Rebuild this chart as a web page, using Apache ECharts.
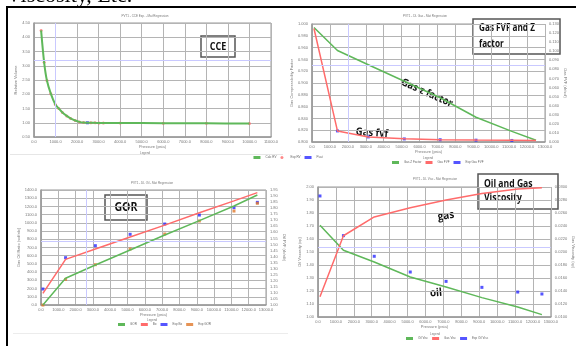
<!DOCTYPE html>
<html>
<head>
<meta charset="utf-8">
<script src="https://cdn.jsdelivr.net/npm/echarts@6/dist/echarts.min.js"></script>
<style>
  html, body { margin: 0; padding: 0; background: #fff; }
  #chart { width: 576px; height: 346px; }
</style>
</head>
<body>
<div id="chart"></div>
<script>
// ---- CCE (constant composition expansion) ----
const ccePressure = [330, 470, 600, 780, 990, 1150, 1320, 1520, 1700, 1910, 2110, 2300, 2480, 2640, 2840, 3020, 3220, 4000, 6000, 8000, 10000];
const cceRelVolCalc = [4.24, 3.12, 2.48, 2.02, 1.64, 1.50, 1.36, 1.24, 1.15, 1.08, 1.03, 1.005, 1.0, 0.998, 0.996, 0.995, 0.994, 0.99, 0.985, 0.98, 0.975];
const cceExpPressure = [330, 470, 600, 780, 990, 1150, 1320, 1520, 1700, 1910, 2110, 2300, 2640, 2840, 3020, 3220, 4000, 6000, 8000, 10000];
const cceRelVolExp = [4.24, 3.12, 2.48, 2.02, 1.64, 1.50, 1.36, 1.24, 1.15, 1.08, 1.03, 1.005, 0.998, 0.996, 0.995, 0.994, 0.99, 0.985, 0.98, 0.975];
const psatPressure = [2480];
const psatRelVol = [1.0];

// ---- Differential liberation stages ----
const dlPressure = [110, 1420, 3140, 5150, 7150, 9150, 11150, 12500];
const gasZCalc = [0.994, 0.955, 0.931, 0.903, 0.875, 0.842, 0.818, 0.803];
const gasFvfCalc = [0.125, 0.0122, 0.0056, 0.0035, 0.0026, 0.0021, 0.0018, 0.0016];
const gasFvfExpPressure = [1420, 3140, 5150, 7150, 9150, 11150];
const gasFvfExp = [0.0122, 0.0056, 0.0034, 0.0025, 0.0020, 0.0017];

const gorCalc = [0, 325, 487, 670, 852, 1027, 1205, 1339];
const gorExp = [0, 312, 491, 682, 864, 1023, 1144, 1238];
const boCalc = [1.096, 1.377, 1.463, 1.562, 1.660, 1.762, 1.860, 1.928];
const boExp = [1.132, 1.391, 1.490, 1.584, 1.669, 1.743, 1.804, 1.848];

const oilViscCalc = [1.705, 1.513, 1.423, 1.308, 1.231, 1.149, 1.077, 1.018];
const oilViscExp = [1.931, 1.626, 1.467, 1.346, 1.274, 1.228, 1.192, 1.177];
const gasViscCalc = [0.0131, 0.0225, 0.0254, 0.0268, 0.0280, 0.0290, 0.0297, 0.0299];

const pairs = (xs, ys) => xs.map((x, i) => [x, ys[i]]);

const GREEN = '#5fb85a';
const RED = '#ff6b6b';
const BLUE = '#2b2bff';
const ORANGE = '#e0782a';
const GRIDLINE = '#b4b4b4';
const TICK = '#777';
const CROSS = '#c9c9ff';
const tiny = { fontSize: 4, color: TICK, fontFamily: 'Liberation Sans' };

function xAxisCfg(gridIndex, max) {
  return {
    type: 'value', gridIndex, min: 0, max, interval: 1000,
    name: 'Pressure (psia)', nameLocation: 'middle', nameGap: 7,
    nameTextStyle: tiny,
    axisLine: { show: true, lineStyle: { color: '#999', width: 1.5 } },
    axisTick: { show: false },
    axisLabel: Object.assign({ margin: 3, formatter: v => v.toFixed(1) }, tiny),
    splitLine: { show: true, lineStyle: { color: GRIDLINE, width: 1 } }
  };
}
function yAxisCfg(gridIndex, min, max, interval, digits, name, position, showSplit) {
  return {
    type: 'value', gridIndex, min, max, interval, position,
    name, nameLocation: 'middle', nameGap: 12, nameRotate: position === 'right' ? -90 : 90,
    nameTextStyle: tiny,
    axisLine: { show: position !== 'right', lineStyle: { color: '#999', width: 1.5 } },
    axisTick: { show: false },
    axisLabel: Object.assign({ margin: 4, formatter: v => v.toFixed(digits) }, tiny),
    splitLine: { show: showSplit, lineStyle: { color: GRIDLINE, width: 1 } }
  };
}
function crossLines(list) {
  return { silent: true, symbol: 'none', label: { show: false },
    lineStyle: { color: CROSS, width: 1, type: 'solid' }, data: list };
}
function legendCfg(names, left, top, icons) {
  return {
    data: names.map((n, i) => ({ name: n, icon: icons[i] })),
    left, top, itemWidth: 7, itemHeight: 3, itemGap: 4,
    textStyle: { fontSize: 3, color: '#666' }, padding: 0
  };
}
// white annotation box with bold caption; the caption is condensed horizontally
function box(x, y, w, h, lines, fontSize, squeeze, centered, lineHeight) {
  return {
    type: 'group', children: [
      { type: 'rect', shape: { x, y, width: w, height: h },
        style: { fill: '#fff', stroke: '#555', lineWidth: 1.5 } },
      { type: 'text', x: centered ? x + w / 2 : x + 6, y: y + h / 2, scaleX: squeeze,
        style: { text: lines, fill: '#111', font: 'bold ' + fontSize + 'px "Open Sans"',
          align: centered ? 'center' : 'left',
          verticalAlign: 'middle', lineHeight: lineHeight || fontSize * 1.4 } }
    ]
  };
}
function label(text, x, y, rot, size, squeeze) {
  return { type: 'text', x, y, rotation: rot, scaleX: squeeze,
    style: { text, fill: '#111', font: 'bold ' + size + 'px "Open Sans"',
      align: 'center', verticalAlign: 'middle' } };
}
function smallTitle(text, x, y) {
  return { type: 'text', x, y, style: { text, fill: '#777', font: '3px "Liberation Sans"', align: 'center', verticalAlign: 'middle' } };
}

const chart = echarts.init(document.getElementById('chart'), null, { renderer: 'canvas' });
chart.setOption({
  animation: false,
  backgroundColor: '#fff',
  grid: [
    { left: 34, top: 23, width: 237, height: 114, show: true, borderColor: '#999', borderWidth: 1 },
    { left: 312, top: 24, width: 233, height: 118, show: true, borderColor: '#999', borderWidth: 1 },
    { left: 41, top: 190, width: 225, height: 115, show: true, borderColor: '#999', borderWidth: 1 },
    { left: 318, top: 187, width: 233, height: 130, show: true, borderColor: '#999', borderWidth: 1 }
  ],
  xAxis: [xAxisCfg(0, 11000), xAxisCfg(1, 13000), xAxisCfg(2, 13000), xAxisCfg(3, 13000)],
  yAxis: [
    yAxisCfg(0, 0.5, 4.5, 0.5, 2, 'Relative Volume', 'left', true),
    yAxisCfg(1, 0.8, 1.0, 0.02, 3, 'Gas Compressibility Factor', 'left', true),
    yAxisCfg(1, 0, 0.13, 0.01, 3, 'Gas FVF (rb/scf)', 'right', false),
    yAxisCfg(2, 0, 1400, 100, 1, 'Gas Oil Ratio (scf/stb)', 'left', true),
    yAxisCfg(2, 1.0, 1.95, 0.05, 2, 'Oil FVF (rb/stb)', 'right', false),
    yAxisCfg(3, 1.0, 2.0, 0.1, 2, 'Oil Viscosity (cp)', 'left', true),
    yAxisCfg(3, 0.010, 0.030, 0.002, 4, 'Gas Viscosity (cp)', 'right', false)
  ],
  legend: [
    legendCfg(['Calc RV', 'Exp RV', 'Psat'], 'center', 156, ['rect', 'circle', 'rect']),
    legendCfg(['Gas Z Factor', 'Gas FVF', 'Exp Gas FVF'], 392, 161, ['rect', 'rect', 'rect']),
    legendCfg(['GOR', 'Bo', 'Exp Bo', 'Exp GOR'], 118, 323, ['rect', 'rect', 'rect', 'rect']),
    legendCfg(['Oil Visc', 'Gas Visc', 'Exp Oil Visc'], 406, 337, ['rect', 'rect', 'rect'])
  ],
  series: [
    // CCE
    { name: 'Calc RV', type: 'line', xAxisIndex: 0, yAxisIndex: 0, smooth: 0.3, symbol: 'none',
      data: pairs(ccePressure, cceRelVolCalc), lineStyle: { color: GREEN, width: 2 }, itemStyle: { color: GREEN },
      markLine: crossLines([{ xAxis: 1000 }, { yAxis: 3.2 }]) },
    { name: 'Exp RV', type: 'scatter', xAxisIndex: 0, yAxisIndex: 0, symbol: 'circle', symbolSize: 3,
      data: pairs(cceExpPressure, cceRelVolExp), itemStyle: { color: RED } },
    { name: 'Psat', type: 'scatter', xAxisIndex: 0, yAxisIndex: 0, symbol: 'rect', symbolSize: 3,
      data: pairs(psatPressure, psatRelVol), itemStyle: { color: BLUE } },
    // Gas Z and FVF
    { name: 'Gas Z Factor', type: 'line', xAxisIndex: 1, yAxisIndex: 1, symbol: 'none',
      data: pairs(dlPressure, gasZCalc), lineStyle: { color: GREEN, width: 1.5 }, itemStyle: { color: GREEN },
      markLine: crossLines([{ xAxis: 2000 }, { yAxis: 0.93 }]) },
    { name: 'Gas FVF', type: 'line', xAxisIndex: 1, yAxisIndex: 2, symbol: 'none',
      data: pairs(dlPressure, gasFvfCalc), lineStyle: { color: RED, width: 1.5 }, itemStyle: { color: RED } },
    { name: 'Exp Gas FVF', type: 'scatter', xAxisIndex: 1, yAxisIndex: 2, symbol: 'rect', symbolSize: 3,
      data: pairs(gasFvfExpPressure, gasFvfExp), itemStyle: { color: BLUE } },
    // GOR and Bo
    { name: 'GOR', type: 'line', xAxisIndex: 2, yAxisIndex: 3, symbol: 'none',
      data: pairs(dlPressure, gorCalc), lineStyle: { color: GREEN, width: 1.5 }, itemStyle: { color: GREEN },
      markLine: crossLines([{ xAxis: 2620 }, { yAxis: 771 }]) },
    { name: 'Bo', type: 'line', xAxisIndex: 2, yAxisIndex: 4, symbol: 'none',
      data: pairs(dlPressure, boCalc), lineStyle: { color: RED, width: 1.5 }, itemStyle: { color: RED } },
    { name: 'Exp Bo', type: 'scatter', xAxisIndex: 2, yAxisIndex: 4, symbol: 'rect', symbolSize: 3,
      data: pairs(dlPressure, boExp), itemStyle: { color: BLUE } },
    { name: 'Exp GOR', type: 'scatter', xAxisIndex: 2, yAxisIndex: 3, symbol: 'rect', symbolSize: 3,
      data: pairs(dlPressure, gorExp), itemStyle: { color: ORANGE } },
    // Viscosities
    { name: 'Oil Visc', type: 'line', xAxisIndex: 3, yAxisIndex: 5, symbol: 'none',
      data: pairs(dlPressure, oilViscCalc), lineStyle: { color: GREEN, width: 1.5 }, itemStyle: { color: GREEN },
      markLine: crossLines([{ yAxis: 1.544 }]) },
    { name: 'Gas Visc', type: 'line', xAxisIndex: 3, yAxisIndex: 6, symbol: 'none',
      data: pairs(dlPressure, gasViscCalc), lineStyle: { color: RED, width: 1.5 }, itemStyle: { color: RED } },
    { name: 'Exp Oil Visc', type: 'scatter', xAxisIndex: 3, yAxisIndex: 5, symbol: 'rect', symbolSize: 3,
      data: pairs(dlPressure, oilViscExp), itemStyle: { color: BLUE } }
  ],
  graphic: [
    // page heading, running off the top edge
    { type: 'text', x: 6, y: 7.5, style: { text: 'Viscosity, Etc.', fill: '#000',
        font: '22px "Liberation Serif"', verticalAlign: 'bottom' } },
    // page frame
    { type: 'line', shape: { x1: 6, y1: 7, x2: 576, y2: 7 }, style: { stroke: '#000', lineWidth: 2 } },
    { type: 'line', shape: { x1: 7, y1: 7, x2: 7, y2: 346 }, style: { stroke: '#000', lineWidth: 2 } },
    // faint borders of the chart images
    { type: 'line', shape: { x1: 10, y1: 154.5, x2: 283, y2: 154.5 }, style: { stroke: '#e6e6e6', lineWidth: 1 } },
    { type: 'line', shape: { x1: 13, y1: 333.5, x2: 288, y2: 333.5 }, style: { stroke: '#ececec', lineWidth: 1 } },
    // small chart titles
    smallTitle('PVT1 - CCE Exp. - Mat Regression', 145, 16),
    smallTitle('PVT1 - DL Gas - Mat Regression', 425, 16),
    smallTitle('PVT1 - DL Oil - Mat Regression', 152, 183),
    smallTitle('PVT1 - DL Visc - Mat Regression', 435, 179),
    smallTitle('Legend', 145, 153),
    smallTitle('Legend', 428, 158),
    smallTitle('Legend', 152, 320),
    smallTitle('Legend', 435, 334),
    // annotation boxes
    box(201, 36, 34, 21, 'CCE', 11, 0.82, true),
    box(473, 19, 87, 35, 'Gas FVF and Z\nfactor', 10.5, 0.78, false, 16),
    box(105, 195, 42, 25, 'GOR', 12.5, 0.85, true),
    box(478, 174, 80, 35, 'Oil and Gas\nViscosity', 10.5, 0.82, false, 14),
    // curve labels
    label('Gas z factor', 427, 93, -0.42, 10.5, 0.9),
    label('Gas fvf', 372, 133, -0.08, 10.5, 0.9),
    label('gas', 446, 216, 0.15, 11, 0.9),
    label('oil', 436, 293, 0.08, 11, 0.9)
  ]
});
</script>
</body>
</html>
